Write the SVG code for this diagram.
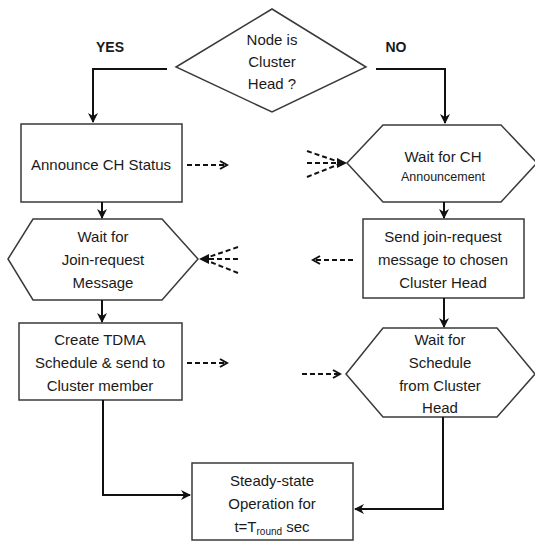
<svg xmlns="http://www.w3.org/2000/svg" width="535" height="541" viewBox="0 0 535 541">
  <style>
    .shape { fill: #ffffff; stroke: #3a3a3a; stroke-width: 1.5; }
    .lbl { font-family: "Liberation Sans", Arial, sans-serif; font-size: 15px; fill: #1a1a1a; text-anchor: middle; }
    .small { font-size: 12.5px; }
    .bold { font-weight: bold; font-size: 14px; }
    .flow { fill: none; stroke: #111; stroke-width: 2; }
    .dash { fill: none; stroke: #111; stroke-width: 2; stroke-dasharray: 5 3; }
  </style>
  <defs>
    <marker id="arrow" viewBox="0 0 10 10" refX="9" refY="5" markerWidth="5" markerHeight="5" orient="auto">
      <path d="M0,0 L10,5 L0,10 L3,5 Z" fill="#111"/>
    </marker>
    <marker id="chev" viewBox="0 0 10 10" refX="8" refY="5" markerWidth="5" markerHeight="5" orient="auto">
      <path d="M1,1 L8,5 L1,9" fill="none" stroke="#111" stroke-width="2"/>
    </marker>
  </defs>

  <rect width="535" height="541" fill="#ffffff"/>

  <!-- branch labels -->
  <text class="lbl bold" x="110" y="52">YES</text>
  <text class="lbl bold" x="396" y="52">NO</text>

  <g id="decision">
    <polygon class="shape" points="272,9 366,67 272,112 176,67"/>
    <text class="lbl" x="272" y="45">Node is</text>
    <text class="lbl" x="272" y="67">Cluster</text>
    <text class="lbl" x="272" y="89">Head ?</text>
  </g>

  <g id="announce">
    <rect class="shape" x="21" y="124" width="161" height="78"/>
    <text class="lbl" x="101" y="170">Announce CH Status</text>
  </g>

  <g id="wait-join">
    <polygon class="shape" points="8,259 33,219 162,219 198,259 162,300 33,300"/>
    <text class="lbl" x="103" y="242">Wait for</text>
    <text class="lbl" x="103" y="265">Join-request</text>
    <text class="lbl" x="103" y="288">Message</text>
  </g>

  <g id="create-tdma">
    <rect class="shape" x="19" y="323" width="163" height="77"/>
    <text class="lbl" x="100" y="345">Create TDMA</text>
    <text class="lbl" x="100" y="368">Schedule &amp; send to</text>
    <text class="lbl" x="100" y="391">Cluster member</text>
  </g>

  <g id="wait-ch">
    <polygon class="shape" points="347,163 383,125 501,125 537,163 501,202 383,202"/>
    <text class="lbl" x="443" y="162">Wait for CH</text>
    <text class="lbl small" x="443" y="181">Announcement</text>
  </g>

  <g id="send-join">
    <rect class="shape" x="363" y="219" width="161" height="79"/>
    <text class="lbl" x="443" y="242">Send join-request</text>
    <text class="lbl" x="443" y="265">message to chosen</text>
    <text class="lbl" x="443" y="288">Cluster Head</text>
  </g>

  <g id="wait-schedule">
    <polygon class="shape" points="346,374 383,328 497,328 535,374 497,417 383,417"/>
    <text class="lbl" x="440" y="345">Wait for</text>
    <text class="lbl" x="440" y="368">Schedule</text>
    <text class="lbl" x="440" y="391">from Cluster</text>
    <text class="lbl" x="440" y="413">Head</text>
  </g>

  <g id="steady-state">
    <rect class="shape" x="192" y="463" width="161" height="77"/>
    <text class="lbl" x="272" y="486">Steady-state</text>
    <text class="lbl" x="272" y="509">Operation for</text>
    <text class="lbl" x="272" y="532">t=T<tspan font-size="10" dy="3">round</tspan><tspan dy="-3"> sec</tspan></text>
  </g>

  <g id="connectors">
    <!-- control flow -->
    <polyline class="flow" points="167,69 93,69 93,122" marker-end="url(#arrow)"/>
    <polyline class="flow" points="376,69 445,69 445,123" marker-end="url(#arrow)"/>
    <line class="flow" x1="102" y1="202" x2="102" y2="218" marker-end="url(#arrow)"/>
    <line class="flow" x1="102" y1="300" x2="102" y2="322" marker-end="url(#arrow)"/>
    <line class="flow" x1="444" y1="202" x2="444" y2="218" marker-end="url(#arrow)"/>
    <line class="flow" x1="444" y1="298" x2="444" y2="327" marker-end="url(#arrow)"/>
    <polyline class="flow" points="103,400 103,495 190,495" marker-end="url(#arrow)"/>
    <polyline class="flow" points="443,417 443,509 355,509" marker-end="url(#arrow)"/>

    <!-- messages between the two sides -->
    <line class="dash" x1="187" y1="165" x2="227" y2="165" marker-end="url(#chev)"/>
    <line class="dash" x1="353" y1="260" x2="313" y2="260" marker-end="url(#chev)"/>
    <line class="dash" x1="187" y1="363" x2="227" y2="363" marker-end="url(#chev)"/>
    <line class="dash" x1="302" y1="374" x2="340" y2="374" marker-end="url(#chev)"/>

    <!-- broadcast receptions -->
    <line class="dash" x1="307" y1="151" x2="342" y2="163"/>
    <line class="dash" x1="307" y1="163" x2="342" y2="163"/>
    <line class="dash" x1="307" y1="177" x2="342" y2="163"/>
    <path d="M337,158 L347,163 L337,168 Z" fill="#111"/>
    <line class="dash" x1="238" y1="247" x2="203" y2="259"/>
    <line class="dash" x1="238" y1="259" x2="203" y2="259"/>
    <line class="dash" x1="238" y1="273" x2="203" y2="259"/>
    <path d="M209,254 L199,259 L209,264 Z" fill="#111"/>
  </g>
</svg>
